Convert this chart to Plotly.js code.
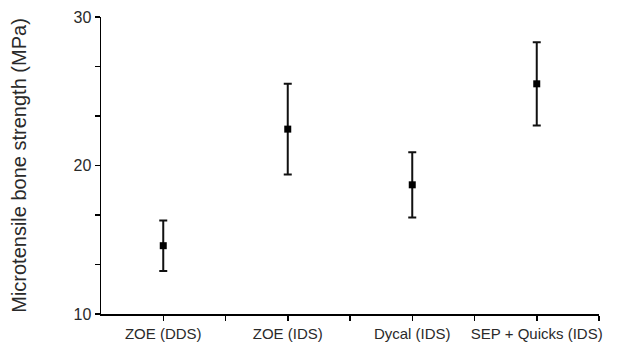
<!DOCTYPE html>
<html><head><meta charset="utf-8">
<script src="https://cdn.plot.ly/plotly-3.0.1.min.js"></script>
<style>html,body{margin:0;padding:0;background:#fff}#c{width:627px;height:349px}</style>
</head><body><div id="c"></div>
<script>
const categories = ["ZOE (DDS)", "ZOE (IDS)", "Dycal (IDS)", "SEP + Quicks (IDS)"];
const means = [14.6, 22.45, 18.7, 25.5];
const errors = [1.7, 3.05, 2.2, 2.8];
const yTickVals = [10, 13.333, 16.667, 20, 23.333, 26.667, 30];
const yTickText = ["10", "", "", "20", "", "", "30"];
const xPos = categories.map((c, i) => i);
const xTickVals = [0, 0.5, 1, 1.5, 2, 2.5, 3, 3.5];
const xTickText = xTickVals.map(v => Number.isInteger(v) ? categories[v] : "");

const trace = {
  x: xPos, y: means, type: "scatter", mode: "markers",
  marker: {symbol: "square", size: 7, color: "#000"},
  error_y: {type: "data", array: errors, visible: true, color: "#111", thickness: 2, width: 4},
  hoverinfo: "skip"
};
const layout = {
  width: 627, height: 349,
  margin: {l: 101, r: 28, t: 17, b: 35},
  paper_bgcolor: "#fff", plot_bgcolor: "#fff",
  showlegend: false,
  font: {family: "Liberation Sans, Arial, sans-serif", color: "#2a2a2a", size: 15},
  xaxis: {
    range: [-0.5, 3.5], tickmode: "array", tickvals: xTickVals, ticktext: xTickText,
    showgrid: false, zeroline: false, showline: true, linecolor: "#000", linewidth: 1.5,
    ticks: "outside", ticklen: 5, tickwidth: 1.5, tickcolor: "#000",
    tickfont: {size: 15}
  },
  yaxis: {
    range: [10, 30], tickmode: "array", tickvals: yTickVals, ticktext: yTickText,
    showgrid: false, zeroline: false, showline: true, linecolor: "#000", linewidth: 1.5,
    ticks: "outside", ticklen: 5, tickwidth: 1.5, tickcolor: "#000",
    tickfont: {size: 16},
    title: {text: "Microtensile bone strength (MPa)", font: {size: 20, color: "#2a2a2a"}, standoff: 41}
  }
};
Plotly.newPlot("c", [trace], layout, {displayModeBar: false, staticPlot: true});
</script></body></html>
